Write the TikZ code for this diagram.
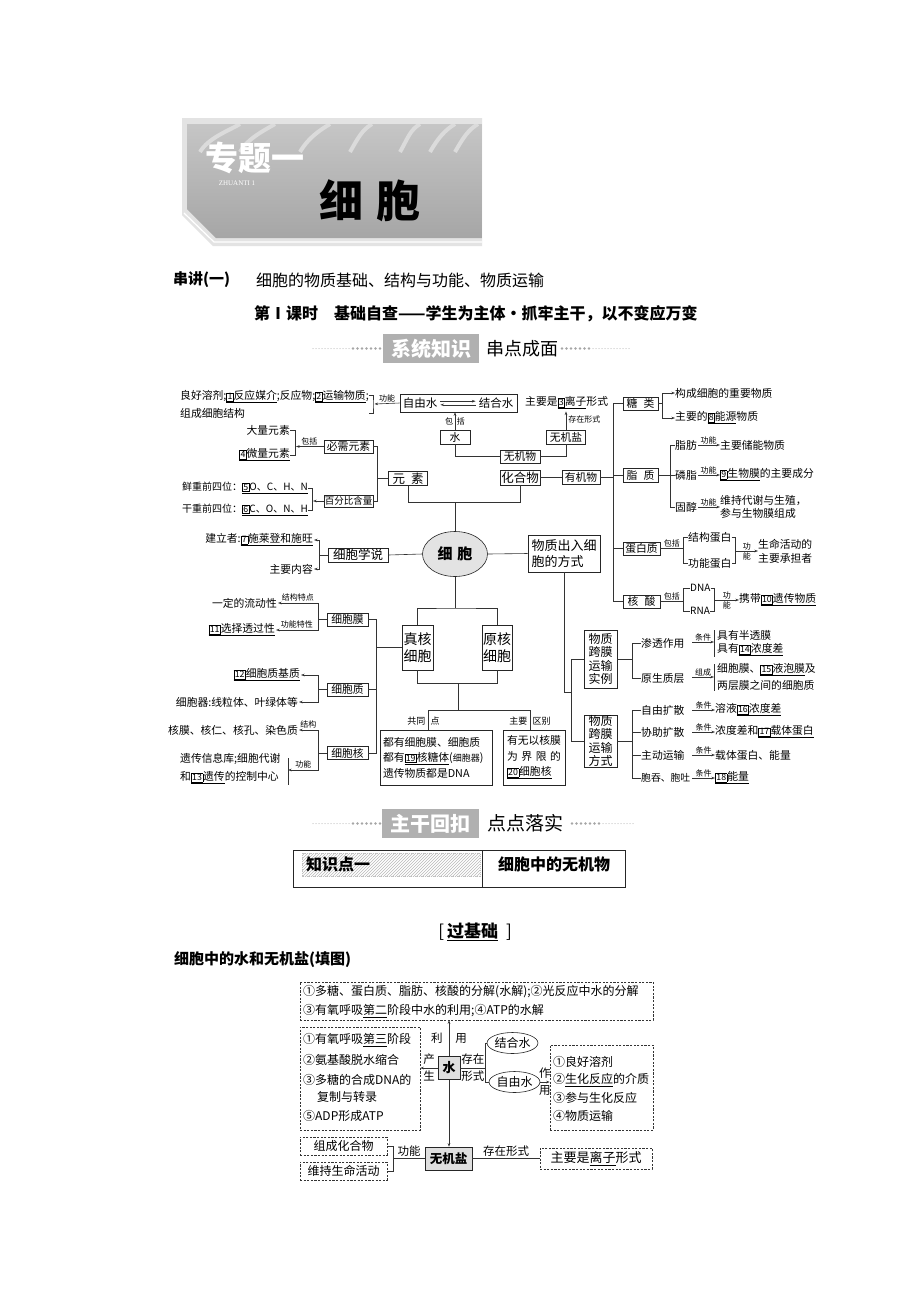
\documentclass[tikz,border=0pt]{standalone}
\usepackage{fontspec}
\setmainfont{Noto Sans CJK SC}
\newfontfamily\latinserif{Liberation Serif}
\usetikzlibrary{arrows.meta,shapes.geometric,patterns,calc}
\newcommand\fsz[2]{\fontsize{#1}{#2}\selectfont}
\newcommand\bxn[1]{{\setlength\fboxsep{0.7pt}\setlength\fboxrule{0.5pt}\fbox{\fsz{8.8}{9}#1}}}
\newcommand\uln[1]{\underline{#1}}
\tikzset{
 bx/.style={draw=black!85,line width=0.6pt,fill=white,font=\fsz{10.8}{12}},
 tx/.style={font=\fsz{10.8}{12}},
 lb/.style={font=\fsz{8}{8}},
 ln/.style={draw=black!80,line width=0.6pt},
 ar/.style={ln,-{Stealth[length=3.6pt,width=2.6pt]}},
 db/.style={draw=black!80,line width=0.6pt,dash pattern=on 2.2pt off 1.4pt},
 gx/.style={draw=black!85,line width=0.6pt,fill=gray!25},
 lt/.style={font=\fsz{12}{13}},
 ll/.style={font=\fsz{11.5}{12}},
}
\begin{document}
\begin{tikzpicture}[x=1pt,y=-1pt,every node/.style={inner sep=0pt}]
\useasboundingbox (0,0) rectangle (920,1302);
\fill[white] (0,0) rectangle (920,1302);

% ---------- banner ----------
\fill[gray!22] (182,118) -- (482,118) -- (482,246) -- (213,246) -- (182,215) -- cycle;
\shade[top color=gray!45,bottom color=gray!70] (187,124) -- (482,124) -- (482,238) -- (216,238) -- (187,209) -- cycle;
\begin{scope}
\clip (187,124) -- (482,124) -- (482,238) -- (216,238) -- (187,209) -- cycle;
\foreach \xa/\xb in {200/240,240/275,300/330,350/372,400/420,430/455,455/478}
  \draw[gray!28,line width=4pt] (\xa,152) .. controls (\xa+8,138) and (\xb-10,130) .. (\xb,124);
\end{scope}
\draw[white,line width=1.2pt] (184,213) -- (214,242) -- (482,242);
\node[font=\fsz{33}{33}\bfseries,text=white] (zt) at (255,158) {专题一};
\node[font=\latinserif\fsz{7}{7},text=white] (zhu) at (237,183) {ZHUANTI 1};
\node[font=\fsz{44}{44}\bfseries,text=black] (xbt) at (370,201) {细\hspace{14pt}胞};

% ---------- headings ----------
\node[anchor=west,font=\fsz{15}{15}\bfseries] (cj) at (173,280) {串讲(一)};
\node[anchor=west,font=\fsz{16}{16}] (cjt) at (256,280) {细胞的物质基础、结构与功能、物质运输};
\node[anchor=west,font=\fsz{16}{16}\bfseries] (ks) at (254,314) {第Ⅰ课时\hspace{16pt}基础自查——学生为主体·抓牢主干，以不变应万变};

% band 1
\foreach \x in {313,316,...,349} \fill[gray!70] (\x,348.5) circle (0.5);
\foreach \x in {353,357.5,...,380} \fill[gray!70] (\x,348.5) circle (1.3);
\foreach \x in {562,566.5,...,590} \fill[gray!70] (\x,348.5) circle (1.3);
\foreach \x in {593,596,...,630} \fill[gray!70] (\x,348.5) circle (0.5);
\node[fill=gray!62,minimum width=96pt,minimum height=29pt,text=white,font=\fsz{20}{20}\bfseries] (xtzs) at (431,348.5) {系统知识};
\node[anchor=west,font=\fsz{18}{18}] (cdcm) at (486,348.5) {串点成面};

% ---------- concept map ----------
\node[bx,minimum width=117pt,minimum height=18pt] (zy) at (458.5,403) {};
\node[tx,font=\fsz{11.5}{12}] (zyA) at (420,403) {自由水};
\node[tx,font=\fsz{11.5}{12}] (zyB) at (496,403) {结合水};
\draw[ar] ($(zyA.east)+(3,-1.8)$) -- ($(zyB.west)+(-3,-1.8)$);
\draw[ar] ($(zyB.west)+(-3,1.8)$) -- ($(zyA.east)+(3,1.8)$);

\node[tx,anchor=west] (gn1) at (180,397) {良好溶剂;\uln{\bxn{1}反应媒介};反应物;\uln{\bxn{2}运输物质};};
\node[tx,anchor=west] (gn2) at (180,413) {组成细胞结构};
\coordinate (gnb) at (374.5,404);
\draw[ln] ($(gnb)+(-6,-9)$) -| ($(gnb)+(-1.5,0)$) |- ($(gnb)+(-6,9)$);
\draw[ar] (zy.west) -- node[lb,above=1.5pt] (lgn) {功能} (gnb);

\node[bx,minimum width=30pt,minimum height=14pt] (shui) at (455,437) {水};
\draw[ar] (shui.north) -- node[lb,left=1.5pt] (lbb1) {包} node[lb,right=1.5pt] (lbb2) {括} (shui.north |- zy.south);
\node[bx,minimum width=40pt,minimum height=13pt] (wjw) at (520,456.5) {无机物};
\node[bx,minimum width=40pt,minimum height=15pt,font=\fsz{12.5}{13}] (hhw) at (520,477.5) {化合物};
\draw[ln] (shui.south) |- (wjw.west);
\node[bx,minimum width=39pt,minimum height=14pt] (wjy) at (566,437) {无机盐};
\draw[ln] (wjw.east) -| (wjy.south);
\node[tx,anchor=west] (lzxs) at (525,403) {主要是\uln{\bxn{3}离子}形式};
\draw[ar,shorten >=2pt] (wjy.north) -- node[lb,right=2pt] (lcz) {存在形式} (wjy.north |- lzxs.south);
\node[bx,minimum width=38pt,minimum height=14pt] (yjw) at (581,477.5) {有机物};
\draw[ln] (hhw.east) -- (yjw.west);

\node[bx,minimum width=35pt,minimum height=13pt] (tl) at (640.5,403.5) {糖\hspace{6pt}类};
\node[bx,minimum width=35pt,minimum height=14pt] (zz) at (640.5,475) {脂\hspace{6pt}质};
\node[bx,minimum width=37pt,minimum height=13pt] (dbz) at (641.5,548.5) {蛋白质};
\node[bx,minimum width=37pt,minimum height=13pt] (hs) at (641.5,601.5) {核\hspace{6pt}酸};
\coordinate (vr) at ($(hs.west)+(-9,0)$);
\draw[ln] (tl.west) -- (tl.west -| vr) -- (vr) -- (hs.west);
\draw[ln] (zz.west) -- (zz.west -| vr);
\draw[ln] (dbz.west) -- (dbz.west -| vr);
\draw[ln] (yjw.east) -- (yjw.east -| vr);

\node[tx,anchor=west] (tlA) at (675,393) {构成细胞的重要物质};
\node[tx,anchor=west] (tlB) at (675,418) {主要的\uln{\bxn{8}能源}物质};
\draw[ln] (tl.east) -- ++(4,0) coordinate (tlj);
\draw[ar] (tlj) |- (tlA.west);
\draw[ar] (tlj) |- (tlB.west);

\node[tx,anchor=west] (zf) at (675,445) {脂肪};
\node[tx,anchor=west] (lz) at (675,475) {磷脂};
\node[tx,anchor=west] (gc) at (675,507) {固醇};
\draw[ln] (zf.west) -- ++(-5,0) |- (gc.west);
\draw[ln] (zz.east) -- (lz.west);
\node[tx,anchor=west] (zfT) at (720,445) {主要储能物质};
\node[tx,anchor=west] (lzT) at (720,475) {\uln{\bxn{9}生物膜}的主要成分};
\node[tx,anchor=west,align=left,font=\fsz{10.8}{13}] (gcT) at (720,506.5) {维持代谢与生殖，\\参与生物膜组成};
\draw[ar,shorten <=1pt] (zf.east) -- node[lb,above=1pt] (lf1) {功能} (zfT.west);
\draw[ar,shorten <=1pt] (lz.east) -- node[lb,above=1pt] (lf2) {功能} (lzT.west);
\draw[ar,shorten <=1pt] (gc.east) -- node[lb,above=1pt] (lf3) {功能} (gc.east -| gcT.west);

\node[tx,anchor=west] (jgdb) at (688,537) {结构蛋白};
\node[tx,anchor=west] (gndb) at (688,563) {功能蛋白};
\draw[ln] (dbz.east) -- node[lb,above=1.5pt] (lbk3) {包括} ++(23,0) coordinate (dbj);
\draw[ln] (jgdb.west) -- ++(-5,0) |- (gndb.west);
\draw[ln] (jgdb.east) -- ++(4,0) coordinate (dbr) |- (gndb.east);
\node[tx,anchor=west,align=left,font=\fsz{10.8}{14}] (smhd) at (758,551) {生命活动的\\主要承担者};
\draw[ar] (dbr |- smhd.west) -- node[lb,above=1pt] (lg1) {功} node[lb,below=1pt] (lg2) {能} (smhd.west);

\node[tx,anchor=west,font=\fsz{10}{11}] (dna) at (690,588) {DNA};
\node[tx,anchor=west,font=\fsz{10}{11}] (rna) at (690,611) {RNA};
\draw[ln] (hs.east) -- node[lb,above=1.5pt] (lbk4) {包括} ++(23,0) coordinate (hsj);
\draw[ln] (dna.west) -- ++(-7,0) |- (rna.west);
\draw[ln] (dna.east) -- ++(4,0) coordinate (hsr) |- (rna.east);
\node[tx,anchor=west] (xdyc) at (739,600) {携带\uln{\bxn{10}遗传物质}};
\draw[ar] (hsr |- xdyc.west) -- node[lb,above=1pt] (lg3) {功} node[lb,below=1pt] (lg4) {能} (xdyc.west);

% left: elements
\node[bx,minimum width=49pt,minimum height=13pt] (bxys) at (348.5,446.5) {必需元素};
\node[bx,minimum width=49pt,minimum height=12pt,font=\fsz{9.5}{10}] (bfb) at (348.5,501) {百分比含量};
\node[bx,minimum width=39pt,minimum height=14pt,font=\fsz{12.5}{13}] (ys) at (408,478.5) {元\hspace{6pt}素};
\draw[ln] (bxys.east) -- ++(4,0) coordinate (ysj) |- (bfb.east);
\draw[ln] (ys.west) -- (ys.west -| ysj);
\node[tx,anchor=east] (dlys) at (290,430) {大量元素};
\node[tx,anchor=east] (wlys) at (290,455) {\uln{\bxn{4}微量元素}};
\draw[ln] (dlys.east) -- ++(5,0) coordinate (blj) |- (wlys.east);
\draw[ar,shorten >=1pt] (bxys.west) -- node[lb,above=1.5pt] (lbk5) {包括} (bxys.west -| blj);
\node[tx,anchor=east,font=\fsz{10}{11}] (xz) at (308,488) {鲜重前四位：\uln{\bxn{5}O、C、H、N}};
\node[tx,anchor=east,font=\fsz{10}{11}] (gz) at (308,510) {干重前四位：\uln{\bxn{6}C、O、N、H}};
\draw[ln] (xz.east) -- ++(4,0) coordinate (bfj) |- (gz.east);
\draw[ar,shorten >=1pt] (bfb.west) -- (bfb.west -| bfj);

\coordinate (jA) at (455,502);
\draw[ln] (ys.south) |- (hhw.south |- jA) -- (hhw.south);
\node[ellipse,draw=black!85,line width=0.6pt,fill=gray!22,minimum width=65pt,minimum height=45pt,font=\fsz{15}{15}\bfseries] (xb) at (455,554) {细\hspace{5pt}胞};
\draw[ln] (xb.north |- jA) -- (xb.north);

\node[bx,minimum width=60pt,minimum height=14pt,font=\fsz{12.5}{13}] (xbxs) at (358,555) {细胞学说};
\draw[ln] (xbxs.east) -- (xb.west);
\node[tx,anchor=east] (jlz) at (313,540) {建立者:\uln{\bxn{7}施莱登和施旺}};
\node[tx,anchor=east] (zynr) at (313,569) {主要内容};
\draw[ln] (xbxs.west) -- ++(-8,0) coordinate (xsj);
\draw[ar,shorten >=1pt] (xsj) |- (jlz.east);
\draw[ar,shorten >=1pt] (xsj) |- (zynr.east);

\node[bx,minimum width=72pt,minimum height=37pt,align=left,font=\fsz{13}{16}] (wzcr) at (564,553.5) {物质出入细\\胞的方式};
\draw[ln] (xb.east) -- (wzcr.west);
\node[bx,minimum width=33pt,minimum height=58pt,align=center,font=\fsz{12}{13.5}] (sl) at (600.5,659) {物质\\跨膜\\运输\\实例};
\node[bx,minimum width=33pt,minimum height=52pt,align=center,font=\fsz{12}{13.5}] (fsb) at (600.5,741) {物质\\跨膜\\运输\\方式};
\coordinate (jC) at (572,692);
\draw[ln] (wzcr.south) |- (jC);
\draw[ln] (sl.west) -- ++(-12.5,0) |- (fsb.west);

\node[tx,anchor=west] (stzy) at (641,643) {渗透作用};
\node[tx,anchor=west] (yszc) at (641,678) {原生质层};
\draw[ln] (stzy.west) -- ++(-9,0) coordinate (slj) |- (yszc.west);
\draw[ln] (sl.east) -- (sl.east -| slj);
\node[tx,anchor=west] (bt1) at (717,635) {具有半透膜};
\node[tx,anchor=west] (bt2) at (717,650) {具有\uln{\bxn{14}浓度差}};
\draw[ln] (714.5,630) -- (714.5,657);
\coordinate (k1) at (714,642);
\draw[ar] ($(k1)+(-22,0)$) -- node[lb,above=1pt] (lt1) {条件} (k1);
\node[tx,anchor=west] (bt3) at (717,670) {细胞膜、\uln{\bxn{15}液泡膜}及};
\node[tx,anchor=west] (bt4) at (717,685) {两层膜之间的细胞质};
\draw[ln] (714.5,664) -- (714.5,691);
\coordinate (k2) at (714,677);
\draw[ar] ($(k2)+(-22,0)$) -- node[lb,above=1pt] (lt2) {组成} (k2);

\node[tx,anchor=west] (zykf) at (641,710) {自由扩散};
\node[tx,anchor=west] (xzkf) at (641,732) {协助扩散};
\node[tx,anchor=west] (zdys) at (641,755) {主动运输};
\node[tx,anchor=west,font=\fsz{9.8}{11}] (ytt) at (641,778) {胞吞、胞吐};
\draw[ln] (zykf.west) -- ++(-9,0) coordinate (fsj) |- (ytt.west);
\draw[ln] (xzkf.west) -- (xzkf.west -| fsj);
\draw[ln] (zdys.west) -- (zdys.west -| fsj);
\draw[ln] (fsb.east) -- (fsb.east -| fsj);
\node[tx,anchor=west] (t16) at (715,710) {溶液\uln{\bxn{16}浓度差}};
\node[tx,anchor=west] (t17) at (715,732) {浓度差和\uln{\bxn{17}载体蛋白}};
\node[tx,anchor=west] (t18) at (715,755) {载体蛋白、能量};
\node[tx,anchor=west] (t19) at (715,778) {\uln{\bxn{18}能量}};
\draw[ar] ($(t16.west)+(-23,0)$) -- node[lb,above=1pt] (lt3) {条件} (t16.west);
\draw[ar] ($(t17.west)+(-23,0)$) -- node[lb,above=1pt] (lt4) {条件} (t17.west);
\draw[ar] ($(t18.west)+(-23,0)$) -- node[lb,above=1pt] (lt5) {条件} (t18.west);
\draw[ar] ($(t19.west)+(-23,0)$) -- node[lb,above=1pt] (lt6) {条件} (t19.west);

% left lower
\node[bx,minimum width=41pt,minimum height=13pt] (xbm) at (347.5,619.5) {细胞膜};
\node[bx,minimum width=41pt,minimum height=13pt] (xbz) at (347.5,689.5) {细胞质};
\node[bx,minimum width=41pt,minimum height=13pt] (xbh) at (347.5,753) {细胞核};
\draw[ln] (xbm.east) -- ++(7.5,0) coordinate (zhj) |- (xbh.east);
\draw[ln] (xbz.east) -- (xbz.east -| zhj);
\node[bx,minimum width=31pt,minimum height=45pt,align=center,font=\fsz{14}{17}] (zh) at (417.5,647.5) {真核\\细胞};
\node[bx,minimum width=30pt,minimum height=45pt,align=center,font=\fsz{14}{17}] (yh) at (497,647.5) {原核\\细胞};
\draw[ln] (zh.west) -- (zh.west -| zhj);
\coordinate (jT) at (455,608);
\draw[ln] (xb.south) -- (jT);
\draw[ln] (zh.north) |- (jT) -| (yh.north);
\coordinate (jD) at (458,683);
\coordinate (jE) at (458,710);
\draw[ln] (zh.south) |- (jD) -| (yh.south);
\draw[ln] (jD) -- (jE);
\node[bx,text width=106pt,inner xsep=3pt,minimum height=55pt,align=left,font=\fsz{10.8}{15.5}] (gtd) at (436,757.5) {都有细胞膜、细胞质\\都有\uln{\bxn{19}核糖体}({\fsz{9}{9}细胞器})\\遗传物质都是DNA};
\node[bx,text width=54pt,inner xsep=4pt,minimum height=55pt,align=left,font=\fsz{10.8}{15.5}] (qb) at (534,757.5) {有无以核膜\\\makebox[54pt][s]{为\hfil 界\hfil 限\hfil 的}\\\uln{\bxn{20}细胞核}};
\draw[ln] ([xshift=-8pt]gtd.north) |- (jE) -| ([xshift=-4pt]qb.north);
\node[anchor=east,font=\fsz{9}{10}] (gt1) at (425.5,721) {共同};
\node[anchor=west,font=\fsz{9}{10}] (gt2) at (430.5,721) {点};
\node[anchor=east,font=\fsz{9}{10}] (zy1) at (527.5,721) {主要};
\node[anchor=west,font=\fsz{9}{10}] (zy2) at (532.5,721) {区别};

\draw[ln] (xbm.west) -- ++(-8,0) coordinate (mj);
\node[tx,anchor=east] (ldx) at (277,603) {一定的流动性};
\node[tx,anchor=east] (xzt) at (275,630) {\uln{\bxn{11}选择透过性}};
\draw[ar,shorten >=1pt] (mj) |- node[lb,above=1.5pt,pos=0.75] (lm1) {结构特点} (ldx.east);
\draw[ar,shorten >=1pt] (mj) |- node[lb,above=1.5pt,pos=0.75] (lm2) {功能特性} (xzt.east);
\draw[ln] (xbz.west) -- ++(-8,0) coordinate (zj);
\node[tx,anchor=east] (jz) at (300,675) {\uln{\bxn{12}细胞质基质}};
\node[tx,anchor=east] (xbq) at (298,702) {细胞器:线粒体、叶绿体等};
\draw[ar,shorten >=1pt] (zj) |- (jz.east);
\draw[ar,shorten >=1pt] (zj) |- (xbq.east);
\draw[ln] (xbh.west) -- ++(-8,0) coordinate (hj);
\node[tx,anchor=east] (hm) at (298,730) {核膜、核仁、核孔、染色质};
\draw[ar,shorten >=1pt] (hj) |- node[lb,above=1.5pt,pos=0.75] (lh1) {结构} (hm.east);
\coordinate (hb) at (288,770);
\draw[ar] (hj) |- node[lb,above=1.5pt,pos=0.75] (lh2) {功能} (hb);
\draw[ln] (288,758) -- (288,785);
\node[tx,anchor=west,align=left,font=\fsz{10.8}{18}] (ycxx) at (180,769) {遗传信息库;细胞代谢\\和\uln{\bxn{13}遗传}的控制中心};

% ---------- band 2 ----------
\foreach \x in {313,316,...,349} \fill[gray!70] (\x,823.5) circle (0.5);
\foreach \x in {353,357.5,...,380} \fill[gray!70] (\x,823.5) circle (1.3);
\foreach \x in {572,576.5,...,600} \fill[gray!70] (\x,823.5) circle (1.3);
\foreach \x in {603,606,...,633} \fill[gray!70] (\x,823.5) circle (0.5);
\node[fill=gray!62,minimum width=97pt,minimum height=29pt,text=white,font=\fsz{20}{20}\bfseries] (zghk) at (430.5,823.5) {主干回扣};
\node[anchor=west,font=\fsz{19}{19}] (ddls) at (487,823.5) {点点落实};

\node[draw=black!85,line width=0.7pt,minimum width=332pt,minimum height=37pt] (tab) at (459,868.5) {};
\draw[black!85,line width=0.7pt] (482,850) -- (482,887);
\fill[pattern=north east lines,pattern color=gray!55] (302,853) rectangle (480,876);
\draw[gray!50,line width=0.4pt,dash pattern=on 1pt off 1pt] (302,853) rectangle (480,876);
\node[anchor=west,font=\fsz{16}{16}\bfseries] (zsd) at (306,864) {知识点一};
\node[font=\fsz{16}{16}\bfseries] (xbwj) at (554,864) {细胞中的无机物};

\node[font=\fsz{17}{17}] (gjc) at (475,932) {[\hspace{3pt}{\bfseries\uln{过基础}}\hspace{8pt}]};
\node[anchor=west,font=\fsz{15}{15}\bfseries] (tt) at (174,960) {细胞中的水和无机盐(填图)};

% ---------- lower diagram ----------
\node[db,minimum width=353pt,minimum height=38pt] (tbox) at (476.5,1001) {};
\node[lt,anchor=west] (tb1) at (303,992) {①多糖、蛋白质、脂肪、核酸的分解(水解);②光反应中水的分解};
\node[lt,anchor=west] (tb2) at (303,1011) {③有氧呼吸\uln{第二}阶段中水的利用;④ATP的水解};

\node[db,minimum width=120pt,minimum height=103pt] (lbox) at (360,1078.5) {};
\node[lt,anchor=west] (lb1) at (303,1040) {①有氧呼吸\uln{第三}阶段};
\node[lt,anchor=west] (lb2) at (303,1060) {②氨基酸脱水缩合};
\node[lt,anchor=west] (lb3) at (303,1080) {③多糖的合成DNA的};
\node[lt,anchor=west] (lb4) at (317,1097) {复制与转录};
\node[lt,anchor=west] (lb5) at (303,1116) {⑤ADP形成ATP};

\node[db,minimum width=103pt,minimum height=85pt] (rbox) at (601.5,1087.5) {};
\node[lt,anchor=west] (rb1) at (553,1061.5) {①良好溶剂};
\node[lt,anchor=west] (rb2) at (553,1080) {②\uln{生化反应}的介质};
\node[lt,anchor=west] (rb3) at (553,1098) {③参与生化反应};
\node[lt,anchor=west] (rb4) at (553,1116) {④物质运输};

\node[gx,minimum width=22pt,minimum height=23pt,font=\fsz{13}{13}\bfseries] (sh2) at (449,1068) {水};
\draw[ar] (sh2.north) -- node[ll,left=6pt] (ly1) {利} node[ll,right=6pt] (ly2) {用} (sh2.north |- tbox.south);
\draw[ar] (sh2.west) -- node[ll,above=3pt] (lc1) {产} node[ll,below=3pt] (lc2) {生} (sh2.west -| lbox.east);
\node[ellipse,draw=black!85,line width=0.6pt,minimum width=45pt,minimum height=21pt,font=\fsz{12}{12}] (jhs) at (512.5,1043) {结合水};
\node[ellipse,draw=black!85,line width=0.6pt,minimum width=45pt,minimum height=21pt,font=\fsz{12}{12}] (zys) at (514.5,1082) {自由水};
\draw[ln] (sh2.east) -- node[ll,above=3pt] (lx1) {存在} node[ll,below=3pt] (lx2) {形式} ++(25,0) coordinate (czj);
\draw[ln] (jhs.west) -- (jhs.west -| czj) |- (zys.west);
\draw[ar] (zys.east) -- node[ll,above=3pt] (lz1) {作} node[ll,below=3pt] (lz2) {用} (zys.east -| rbox.west);

\node[gx,minimum width=47pt,minimum height=23pt,font=\fsz{12.5}{13}\bfseries] (wjy2) at (448.5,1158.5) {无机盐};
\draw[ar] (sh2.south) -- (sh2.south |- wjy2.north);
\node[db,minimum width=87pt,minimum height=18pt,font=\fsz{12}{12}] (zchh) at (343.5,1146) {组成化合物};
\node[db,minimum width=87pt,minimum height=18pt,font=\fsz{12}{12}] (wcsm) at (343.5,1171) {维持生命活动};
\draw[ln] (zchh.east) -- ++(6,0) coordinate (gnj) |- (wcsm.east);
\draw[ln] (wjy2.west) -- node[ll,above=2pt] (lgn2) {功能} (wjy2.west -| gnj);
\node[db,minimum width=112pt,minimum height=21pt,font=\fsz{13}{13}] (lzxs2) at (596,1158.5) {主要是\uln{离子}形式};
\draw[ln] (wjy2.east) -- node[ll,above=2pt] (lcz2) {存在形式} (lzxs2.west);
\end{tikzpicture}
\end{document}
